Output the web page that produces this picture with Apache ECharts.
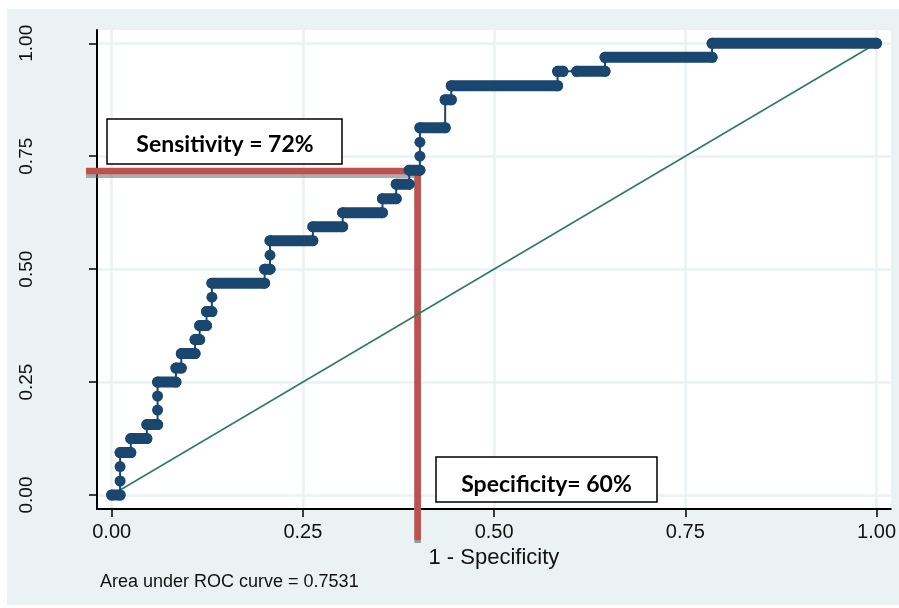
<!DOCTYPE html>
<html><head><meta charset="utf-8">
<script src="https://cdn.jsdelivr.net/npm/echarts@6/dist/echarts.min.js"></script>
<style>html,body{margin:0;padding:0;background:#fff}#c{width:899px;height:608px}</style>
</head><body><div id="c"></div>
<script>
// Axis ticks
const xTicks = [0, 0.25, 0.5, 0.75, 1];
const yTicks = [0, 0.25, 0.5, 0.75, 1];
const xTickLabels = ['0.00', '0.25', '0.50', '0.75', '1.00'];
const yTickLabels = ['0.00', '0.25', '0.50', '0.75', '1.00'];

// ROC curve vertices: 1 - specificity
const rocX = [0, 0.011, 0.011, 0.011, 0.011, 0.025, 0.025, 0.046, 0.046, 0.060, 0.060, 0.060, 0.060,
  0.084, 0.084, 0.091, 0.091, 0.109, 0.109, 0.115, 0.115, 0.124, 0.124, 0.131, 0.131, 0.131,
  0.200, 0.200, 0.207, 0.207, 0.207, 0.263, 0.263, 0.302, 0.302, 0.354, 0.354, 0.372, 0.372,
  0.389, 0.389, 0.403, 0.403, 0.403, 0.403, 0.436, 0.436, 0.444, 0.444, 0.583, 0.583,
  0.590, 0.608, 0.645, 0.645, 0.785, 0.785, 1.0];
// ROC curve vertices: sensitivity
const rocY = [0, 0, 0.031, 0.063, 0.094, 0.094, 0.125, 0.125, 0.156, 0.156, 0.188, 0.219, 0.25,
  0.25, 0.281, 0.281, 0.313, 0.313, 0.344, 0.344, 0.375, 0.375, 0.406, 0.406, 0.438, 0.469,
  0.469, 0.5, 0.5, 0.531, 0.563, 0.563, 0.594, 0.594, 0.625, 0.625, 0.656, 0.656, 0.688,
  0.688, 0.719, 0.719, 0.75, 0.781, 0.813, 0.813, 0.875, 0.875, 0.906, 0.906, 0.938,
  0.938, 0.938, 0.938, 0.969, 0.969, 1, 1];
// x where a flat stretch has no observations (gap in the run)
const runGapStartX = [0.590];

// Reference (chance) line
const diagX = [0, 1];
const diagY = [0, 1];

// Chosen cut-off
const cutX = 0.40;
const cutY = 0.717;

const sensText = 'Sensitivity = 72%';
const specText = 'Specificity= 60%';
const aucText = 'Area under ROC curve = 0.7531';
const xTitle = '1 - Specificity';

// ---- build ----
const rocData = rocX.map((x, i) => [x, rocY[i]]);
const runData = [];
for (let i = 0; i < rocData.length - 1; i++) {
  if (rocData[i][1] === rocData[i + 1][1] && runGapStartX.indexOf(rocData[i][0]) < 0) {
    runData.push(rocData[i], rocData[i + 1], null);
  }
}
const diagData = diagX.map((x, i) => [x, diagY[i]]);

const NAVY = '#1a476f';
const GRID = '#eaf2f3';
const chart = echarts.init(document.getElementById('c'));
const option = {
  backgroundColor: '#ffffff',
  animation: false,
  grid: { left: 97, right: 8, top: 30, bottom: 99, show: true, backgroundColor: '#ffffff', borderWidth: 0 },
  xAxis: {
    type: 'value', min: -0.0192, max: 1.0187,
    name: xTitle, nameLocation: 'middle', nameGap: 32,
    nameTextStyle: { fontFamily: 'Liberation Sans, Arial', fontSize: 22, color: '#111' },
    axisLine: { show: true, onZero: false, lineStyle: { color: '#000', width: 2 } },
    axisTick: { show: true, inside: false, length: 8, lineStyle: { color: '#000', width: 1.5 }, customValues: xTicks },
    axisLabel: {
      customValues: xTicks, margin: 13, fontFamily: 'Liberation Sans, Arial', fontSize: 20, color: '#111',
      formatter: v => xTickLabels[xTicks.indexOf(v)] ?? ''
    },
    splitLine: { show: true, lineStyle: { color: GRID, width: 2.5 } }
  },
  yAxis: {
    type: 'value', min: -0.031, max: 1.0294,
    axisLine: { show: true, onZero: false, lineStyle: { color: '#000', width: 2 } },
    axisTick: { show: true, inside: false, length: 8, lineStyle: { color: '#000', width: 1.5 }, customValues: yTicks },
    axisLabel: {
      customValues: yTicks, rotate: 90, margin: 61, fontFamily: 'Liberation Sans, Arial', fontSize: 19, color: '#111',
      formatter: v => yTickLabels[yTicks.indexOf(v)] ?? ''
    },
    splitLine: { show: true, lineStyle: { color: GRID, width: 2.5 } }
  },
  series: [
    {
      type: 'line', data: diagData, showSymbol: false, symbol: 'none', z: 2,
      lineStyle: { color: '#2e7b66', width: 1.6 }, silent: true
    },
    {
      type: 'line', data: runData, showSymbol: false, symbol: 'none', connectNulls: false, z: 3,
      lineStyle: { color: NAVY, width: 11, cap: 'round' }, silent: true
    },
    {
      type: 'line', data: rocData, symbol: 'circle', symbolSize: 11, z: 4,
      itemStyle: { color: NAVY }, lineStyle: { color: NAVY, width: 2 }, silent: true
    }
  ]
};
chart.setOption(option);

const cp = chart.convertToPixel({ gridIndex: 0 }, [cutX, cutY]);
const corner = chart.convertToPixel({ gridIndex: 0 }, [-0.0192, -0.031]);
const axisLeft = corner[0], axisBottom = corner[1];
const RED = '#c0504d';
const RW = 6.5;
const SH = 'rgba(105,105,105,0.55)';

chart.setOption({
  graphic: [
    { type: 'rect', z: -10, silent: true, shape: { x: 7, y: 9, width: 892, height: 596 }, style: { fill: GRID } },
    // shadows
    { type: 'line', z: 1, silent: true, shape: { x1: axisLeft - 11, y1: cp[1] + 4.5, x2: cp[0], y2: cp[1] + 4.5 }, style: { stroke: SH, lineWidth: 5 } },
    { type: 'line', z: 1, silent: true, shape: { x1: cp[0], y1: cp[1], x2: cp[0], y2: axisBottom + 34 }, style: { stroke: '#999', lineWidth: RW } },
    // red cut lines
    { type: 'line', z: 1, silent: true, shape: { x1: axisLeft - 11, y1: cp[1], x2: cp[0] + RW / 2, y2: cp[1] }, style: { stroke: RED, lineWidth: RW } },
    { type: 'line', z: 1, silent: true, shape: { x1: cp[0], y1: cp[1] - RW / 2, x2: cp[0], y2: axisBottom + 31 }, style: { stroke: RED, lineWidth: RW } },
    // annotation boxes
    { type: 'rect', z: 10, silent: true, shape: { x: 107, y: 119, width: 235, height: 45 }, style: { fill: '#fff', stroke: '#000', lineWidth: 1.5 } },
    { type: 'text', z: 11, silent: true, x: 225, y: 145, style: { text: sensText, fill: '#000', font: 'bold 23px Lato, "Open Sans", sans-serif', textAlign: 'center', textVerticalAlign: 'middle' } },
    { type: 'rect', z: 10, silent: true, shape: { x: 436, y: 457, width: 221, height: 45 }, style: { fill: '#fff', stroke: '#000', lineWidth: 1.5 } },
    { type: 'text', z: 11, silent: true, x: 546.5, y: 485, style: { text: specText, fill: '#000', font: 'bold 23px Lato, "Open Sans", sans-serif', textAlign: 'center', textVerticalAlign: 'middle' } },
    // AUC note
    { type: 'text', z: 11, silent: true, x: 100, y: 582, style: { text: aucText, fill: '#111', font: '18px "Liberation Sans", Arial, sans-serif', textAlign: 'left', textVerticalAlign: 'middle' } }
  ]
});
</script></body></html>
